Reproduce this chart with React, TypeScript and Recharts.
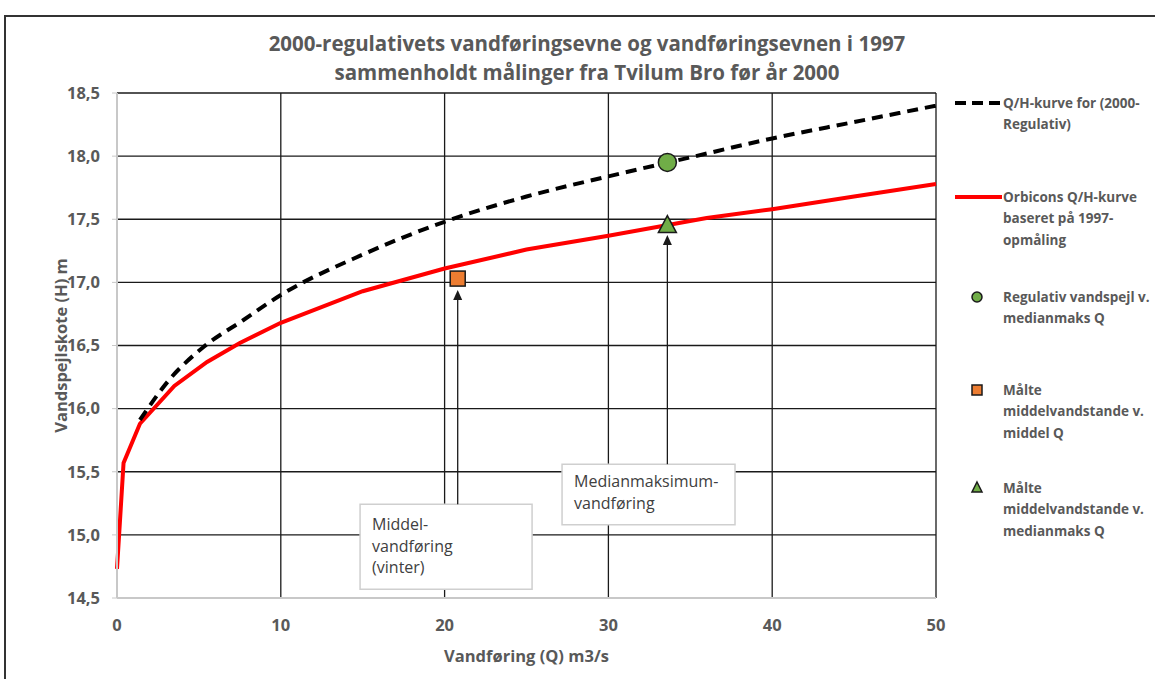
import React from 'react';
import {
  ComposedChart,
  Line,
  Scatter,
  XAxis,
  YAxis,
  CartesianGrid,
  ReferenceArea,
  ReferenceLine,
} from 'recharts';

// Q/H-kurve for 2000-regulativ (dashed)
const qRegulativ = [1.4, 3.2, 5.3, 7.7, 10, 15, 20, 25, 30, 35, 40, 45, 50];
const hRegulativ = [15.91, 16.23, 16.49, 16.7, 16.9, 17.22, 17.48, 17.68, 17.84, 17.99, 18.14, 18.27, 18.4];

// Orbicons Q/H-kurve, 1997-opmåling (red)
const qOrbicon = [0, 0.4, 1.4, 3.5, 5.5, 7.5, 10, 15, 20, 25, 30, 36, 40, 45, 50];
const hOrbicon = [14.73, 15.57, 15.88, 16.18, 16.37, 16.52, 16.68, 16.93, 17.11, 17.26, 17.37, 17.51, 17.58, 17.68, 17.78];

const circlePoint = [{ q: 33.6, h: 17.95 }];
const squarePoint = [{ q: 20.8, h: 17.03 }];
const trianglePoint = [{ q: 33.6, h: 17.45 }];

const xTicks = [0, 10, 20, 30, 40, 50];
const yTicks = [14.5, 15, 15.5, 16, 16.5, 17, 17.5, 18, 18.5];

const titleLines = [
  '2000-regulativets vandføringsevne og vandføringsevnen i 1997',
  'sammenholdt målinger fra Tvilum Bro før år 2000',
];

const boxMiddel = ['Middel-', 'vandføring', '(vinter)'];
const boxMedian = ['Medianmaksimum-', 'vandføring'];

const regData = qRegulativ.map((q, i) => ({ q, h: hRegulativ[i] }));
const orbData = qOrbicon.map((q, i) => ({ q, h: hOrbicon[i] }));

const GRAY = '#595959';
const FONT = '"Open Sans", sans-serif';

const Circle = ({ cx, cy }: any) => (
  <circle cx={cx} cy={cy} r={9} fill="#70ad47" stroke="#1a1a1a" strokeWidth={1.5} />
);
const Square = ({ cx, cy }: any) => (
  <rect x={cx - 7.5} y={cy - 7.5} width={15} height={15} fill="#ed7d31" stroke="#1a1a1a" strokeWidth={1.5} />
);
const Triangle = ({ cx, cy }: any) => (
  <polygon
    points={`${cx},${cy - 10} ${cx + 9},${cy + 7} ${cx - 9},${cy + 7}`}
    fill="#70ad47"
    stroke="#1a1a1a"
    strokeWidth={1.5}
  />
);

const Arrow = (props: any) => {
  const { x1, y1, x2, y2 } = props;
  return (
    <g>
      <line x1={x1} y1={y1} x2={x2} y2={y2 + 6} stroke="#1a1a1a" strokeWidth={1.3} />
      <polygon points={`${x2},${y2} ${x2 + 4.5},${y2 + 10} ${x2 - 4.5},${y2 + 10}`} fill="#1a1a1a" />
    </g>
  );
};

const boxLabel = (lines: string[], dy: number) => (props: any) => {
  const vb = props.viewBox || {};
  return (
    <text x={vb.x + 12} y={vb.y + dy} fontFamily={FONT} fontSize={16} fill="#404040">
      {lines.map((l, i) => (
        <tspan key={i} x={vb.x + 12} dy={i === 0 ? 0 : 21.5}>
          {l}
        </tspan>
      ))}
    </text>
  );
};

const yAxisTitle = (props: any) => {
  const vb = props.viewBox || {};
  const cx = vb.x + 3;
  const cy = vb.y + vb.height / 2;
  return (
    <text
      x={cx}
      y={cy}
      transform={`rotate(-90 ${cx} ${cy})`}
      textAnchor="middle"
      dominantBaseline="central"
      fontFamily={FONT}
      fontSize={16.5}
      fontWeight={700}
      fill={GRAY}
    >
      Vandspejlskote (H) m
    </text>
  );
};

const legendItems = [
  { kind: 'dash', y: 103, lines: ['Q/H-kurve for (2000-', 'Regulativ)'] },
  { kind: 'red', y: 197, lines: ['Orbicons Q/H-kurve', 'baseret på 1997-', 'opmåling'] },
  { kind: 'circle', y: 297, lines: ['Regulativ vandspejl v.', 'medianmaks Q'] },
  { kind: 'square', y: 390, lines: ['Målte', 'middelvandstande v.', 'middel Q'] },
  { kind: 'triangle', y: 488, lines: ['Målte', 'middelvandstande v.', 'medianmaks Q'] },
];

// legend drawn as a plain overlay so it does not shrink the plot area
const LegendBox = () => (
  <svg width={210} height={460} style={{ position: 'absolute', left: 950, top: 95, overflow: 'visible' }}>
    {legendItems.map((it) => {
      const y = it.y - 95;
      let sym: React.ReactNode = null;
      if (it.kind === 'dash')
        sym = <line x1={5} y1={y} x2={52} y2={y} stroke="#000" strokeWidth={4} strokeDasharray="11 6" />;
      if (it.kind === 'red') sym = <line x1={5} y1={y} x2={52} y2={y} stroke="#ff0000" strokeWidth={4} />;
      if (it.kind === 'circle') sym = <circle cx={27} cy={y} r={5} fill="#70ad47" stroke="#1a1a1a" strokeWidth={1.5} />;
      if (it.kind === 'square')
        sym = <rect x={22} y={y - 5} width={10} height={10} fill="#ed7d31" stroke="#1a1a1a" strokeWidth={1.5} />;
      if (it.kind === 'triangle')
        sym = (
          <polygon points={`27,${y - 6} 32,${y + 4} 22,${y + 4}`} fill="#70ad47" stroke="#1a1a1a" strokeWidth={1.5} />
        );
      return (
        <g key={it.y}>
          {sym}
          <text x={53} y={y + 4.5} fontFamily={FONT} fontSize={13.5} fontWeight={700} fill={GRAY}>
            {it.lines.map((l, i) => (
              <tspan key={i} x={53} dy={i === 0 ? 0 : 21.5}>
                {l}
              </tspan>
            ))}
          </text>
        </g>
      );
    })}
  </svg>
);

const fmt = (v: number) => v.toFixed(1).replace('.', ',');

export default function App() {
  return (
    <div style={{ position: 'absolute', left: 0, top: 0, width: 1155, height: 679, background: '#fff', overflow: 'hidden' }}>
      <div
        style={{
          position: 'absolute',
          left: 4,
          top: 15,
          width: 1200,
          height: 700,
          borderLeft: '2px solid #333',
          borderTop: '2px solid #333',
        }}
      />
      <div
        style={{
          position: 'absolute',
          left: 117,
          width: 940,
          top: 29,
          textAlign: 'center',
          fontFamily: FONT,
          fontWeight: 700,
          fontSize: 20.5,
          lineHeight: '29px',
          color: GRAY,
        }}
      >
        {titleLines.map((l) => (
          <div key={l}>{l}</div>
        ))}
      </div>
      <ComposedChart
        width={1155}
        height={679}
        margin={{ top: 93, right: 219, bottom: 51, left: 57 }}
        style={{ position: 'absolute', left: 0, top: 0 }}
      >
        <CartesianGrid stroke="#1a1a1a" strokeWidth={1.3} />
        <XAxis
          type="number"
          dataKey="q"
          domain={[0, 50]}
          ticks={xTicks}
          height={30}
          axisLine={{ stroke: '#c8c8c8', strokeWidth: 2 }}
          tickLine={false}
          tickMargin={15}
          tick={{ fill: GRAY, fontSize: 16.5, fontWeight: 700, fontFamily: FONT }}
          label={{
            value: 'Vandføring (Q) m3/s',
            position: 'insideBottom',
            offset: -34,
            fill: GRAY,
            fontSize: 16.5,
            fontWeight: 700,
            fontFamily: FONT,
          }}
        />
        <YAxis
          type="number"
          dataKey="h"
          domain={[14.5, 18.5]}
          ticks={yTicks}
          width={60}
          tickFormatter={fmt}
          axisLine={{ stroke: '#c8c8c8', strokeWidth: 2 }}
          tickLine={{ stroke: '#c8c8c8' }}
          tickSize={5}
          tickMargin={12}
          tick={{ fill: GRAY, fontSize: 16.5, fontWeight: 700, fontFamily: FONT }}
          label={yAxisTitle}
        />
        <ReferenceArea
          x1={14.84}
          x2={25.34}
          y1={14.57}
          y2={15.243}
          fill="#fff"
          fillOpacity={1}
          stroke="#cfcfcf"
          strokeWidth={1.5}
          label={boxLabel(boxMiddel, 26)}
        />
        <ReferenceArea
          x1={27.17}
          x2={37.73}
          y1={15.08}
          y2={15.56}
          fill="#fff"
          fillOpacity={1}
          stroke="#cfcfcf"
          strokeWidth={1.5}
          label={boxLabel(boxMedian, 23)}
        />
        <ReferenceLine
          segment={[
            { x: 20.8, y: 15.243 },
            { x: 20.8, y: 16.94 },
          ]}
          shape={Arrow}
        />
        <ReferenceLine
          segment={[
            { x: 33.6, y: 15.56 },
            { x: 33.6, y: 17.375 },
          ]}
          shape={Arrow}
        />
        <Line
          data={orbData}
          dataKey="h"
          type="linear"
          stroke="#ff0000"
          strokeWidth={4}
          dot={false}
          isAnimationActive={false}
        />
        <Line
          data={regData}
          dataKey="h"
          type="monotone"
          stroke="#000"
          strokeWidth={4}
          strokeDasharray="11 7"
          dot={false}
          isAnimationActive={false}
        />
        <Scatter data={circlePoint} dataKey="h" shape={<Circle />} isAnimationActive={false} />
        <Scatter data={squarePoint} dataKey="h" shape={<Square />} isAnimationActive={false} />
        <Scatter data={trianglePoint} dataKey="h" shape={<Triangle />} isAnimationActive={false} />
      </ComposedChart>
      <LegendBox />
    </div>
  );
}
